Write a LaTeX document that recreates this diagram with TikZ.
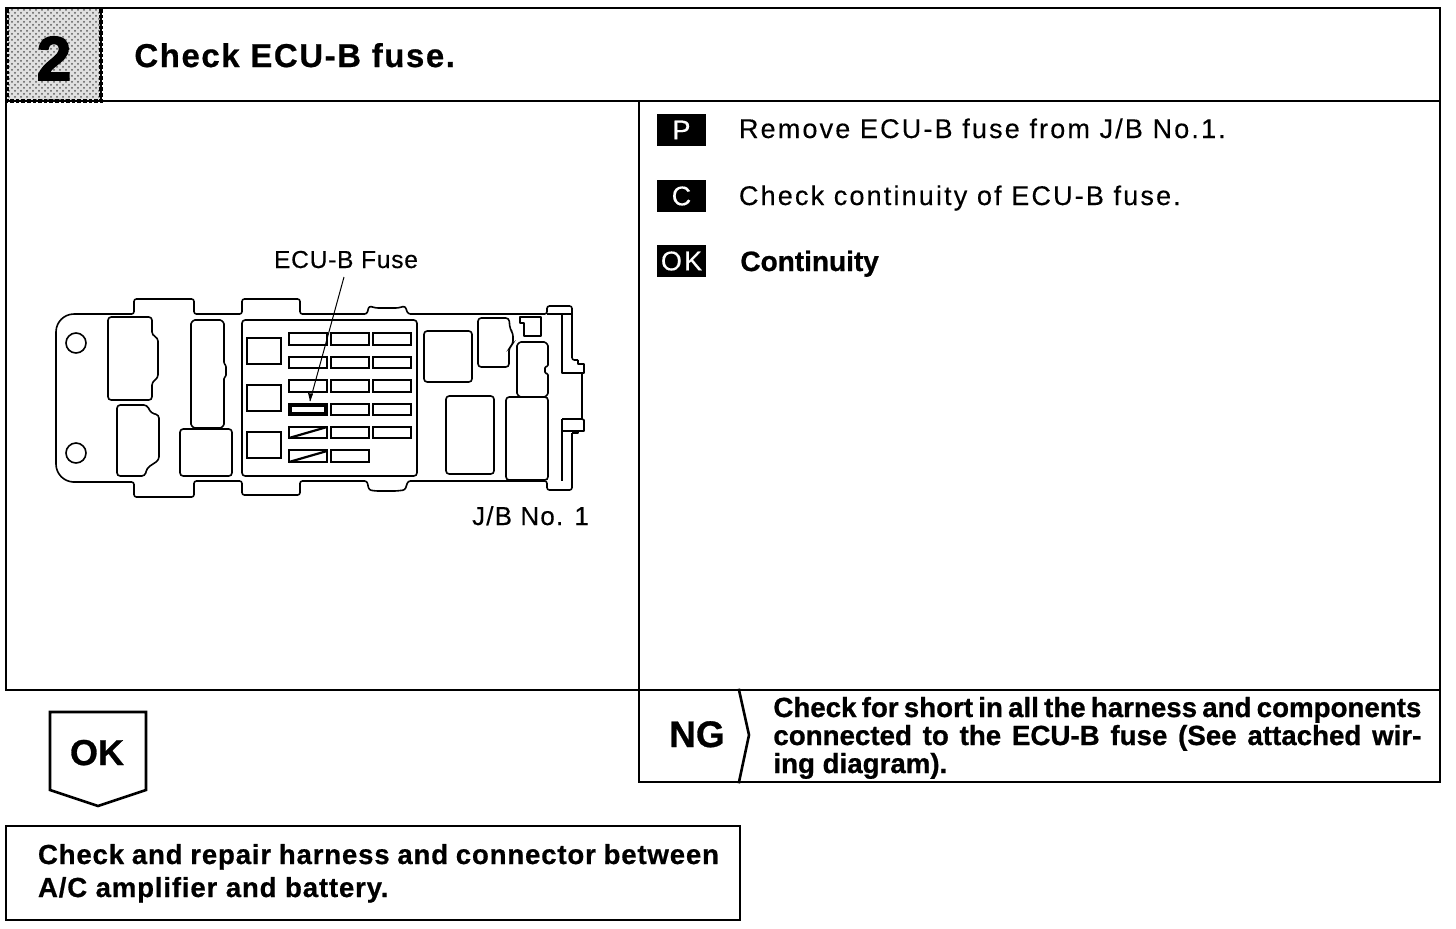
\documentclass[tikz,border=0pt]{standalone}
\usepackage{fontspec}
\usetikzlibrary{patterns}
\setmainfont{Liberation Sans}
\newfontfamily\bodyf[LetterSpace=8,FakeBold=0.25]{Liberation Sans}
\newfontfamily\labelf[LetterSpace=4.5,FakeBold=0.25]{Liberation Sans}
\newfontfamily\fuself[LetterSpace=3,FakeBold=0.25]{Liberation Sans}
\newfontfamily\boldf[LetterSpace=3,FakeBold=0.6]{Liberation Sans Bold}
\newfontfamily\titlef[LetterSpace=4.7,FakeBold=0.6]{Liberation Sans Bold}
\newfontfamily\tightf[FakeBold=0.8]{Liberation Sans Bold}
\newfontfamily\numf[FakeBold=2.5]{Liberation Sans Bold}
\newcommand{\fs}[1]{\fontsize{#1}{#1}\selectfont}
\newlength{\pxu}\setlength{\pxu}{0.5pt}
\newcommand{\jline}[2]{\makebox[#1\pxu][s]{#2}}
\tikzset{
  x=0.5pt,y=-0.5pt,
  frameline/.style={line width=1.3pt,black,line cap=rect},
  partline/.style={line width=0.8pt,black,rounded corners=1.6pt},
  bumpline/.style={line width=0.8pt,black,rounded corners=0.5pt},
  plateline/.style={line width=0.8pt,black,line join=round},
  fuseline/.style={line width=0.8pt,black},
  body/.style={anchor=base west,inner sep=0pt,outer sep=0pt,font=\bodyf\fs{13.5}},
  strong/.style={anchor=base west,inner sep=0pt,outer sep=0pt,font=\boldf\fs{13.8}},
  badge/.style={fill=black,text=white,minimum width=24.5pt,minimum height=16pt,inner sep=0pt,font=\bodyf\fs{13.5}},
}
\begin{document}
\begin{tikzpicture}
\useasboundingbox (0,0) rectangle (1456,928);
\fill[white] (0,0) rectangle (1456,928);
% header cell
\fill[black!12] (6,8) rectangle (101,101);
\fill[pattern=crosshatch dots,pattern color=black!65] (6,8) rectangle (101,101);
\draw[line width=1.8pt,densely dotted] (7,9) -- (7,101) -- (101,101) -- (101,9);
% frames
\draw[frameline] (6,8) -- (1440,8) -- (1440,101) -- (6,101) -- cycle;
\draw[frameline] (6,101) -- (6,690) -- (1440,690) -- (1440,101);
\draw[frameline] (101,8) -- (101,101);
\draw[frameline] (639,101) -- (639,782) -- (1440,782) -- (1440,690);
\draw[frameline] (739,690) -- (749,735) -- (739,782);
\draw[frameline] (50,712) -- (146,712) -- (146,790) -- (98,806) -- (50,790) -- cycle;
\draw[frameline] (6,826) rectangle (740,920);
% header text
\node[anchor=base,inner sep=0pt,font=\numf\fs{31}] (num) at (54,80) {2};
\node[anchor=base west,inner sep=0pt,font=\titlef\fs{16.5}] (title) at (134,67) {Check ECU-B fuse.};
% steps
\node[badge] (bp) at (681.5,130) {P};
\node[badge] (bc) at (681.5,196) {C};
\node[badge] (bok) at (681.5,261) {OK};
\node[body] (tp) at (739,138) {Remove ECU-B fuse from J/B No.1.};
\node[body] (tc) at (739,205) {Check continuity of ECU-B fuse.};
\node[anchor=base west,inner sep=0pt,font=\tightf\fs{14}] (tok) at (740,271) {Continuity};
% result labels
\node[anchor=base,inner sep=0pt,font=\tightf\fs{18.5}] (ng) at (697,747) {NG};
\node[anchor=base,inner sep=0pt,font=\tightf\fs{18}] (ok) at (97,765) {OK};
\node[anchor=base west,inner sep=0pt,font=\tightf\fs{13.85}] (ngt1) at (773,717) {\jline{648}{Check for short in all the harness and components}};
\node[anchor=base west,inner sep=0pt,font=\tightf\fs{13.85}] (ngt2) at (773,745) {\jline{648}{connected to the ECU-B fuse (See attached wir-}};
\node[anchor=base west,inner sep=0pt,font=\tightf\fs{13.85}] (ngt3) at (773,773) {ing diagram).};
\node[strong] (rep1) at (38,864) {\jline{681}{Check and repair harness and connector between}};
\node[strong] (rep2) at (38,897) {A/C amplifier and battery.};
% junction block plate
\draw[plateline,rounded corners=1.2pt] (56,332) [rounded corners=9pt] -- (56,314) [rounded corners=1.2pt] -- (134,314) -- (134,299) -- (194,299) -- (194,314) -- (242,314) -- (242,299) -- (300,299) -- (300,314) -- (367,314) -- (369,306) -- (376,308) -- (398,308) -- (405,306) -- (408,314) -- (547,314) -- (547,306) -- (572,306) -- (572,360) -- (578,360);
\draw[plateline] (578,360) -- (578,364) -- (584,364) -- (584,373) -- (562,373) -- (562,314);
\draw[plateline] (572,314) -- (547,314);
\draw[plateline] (582,373) -- (582,419) -- (562,419);
\draw[plateline] (582,419) -- (584,420) -- (584,431) -- (578,431) -- (578,433) -- (572,433);
\draw[plateline,rounded corners=1.2pt] (572,433) -- (572,490) -- (547,490) -- (547,481) -- (408,481) -- (405,490) -- (396,491) -- (376,491) -- (369,490) -- (367,481) -- (300,481) -- (300,495) -- (242,495) -- (242,481) -- (194,481) -- (194,497) -- (134,497) -- (134,482) -- (75,482) [rounded corners=9pt] -- (56,482) -- (56,332);
\draw[plateline] (562,419) -- (562,481);
\draw[plateline] (562,431) -- (578,431);
\draw[plateline] (76,343) circle[radius=10];
\draw[plateline] (76,453) circle[radius=10];
% connectors on the left
\draw[partline] (108,317) -- (152,317) -- (152,335) -- (158,338) -- (158,378) -- (152,382) -- (152,400) -- (108,400) -- cycle;
\draw[partline] (117,405) -- (147,405) -- (151,413) -- (159,415) -- (159,460) -- (147,468) -- (145,476) -- (117,476) -- cycle;
\draw[bumpline] (194,320) -- (221,320) -- (224,323) -- (224,363) -- (226,366) -- (226,376) -- (224,378) -- (224,425) -- (221,428) -- (194,428) -- (191,425) -- (191,323) -- cycle;
\draw[partline] (180,429) -- (232,429) -- (232,476) -- (180,476) -- cycle;
% fuse panel
\draw[partline] (242,320) -- (417,320) -- (417,476) -- (242,476) -- cycle;
\foreach \yy in {338,385,432} \draw[fuseline] (247,\yy) rectangle (281,\yy+26);
\foreach \yy/\yb in {333/345,357/368,380/392,427/438,450/462}
  \draw[fuseline] (289,\yy) rectangle (327,\yb);
\foreach \yy/\yb in {333/345,357/368,380/392,404/415,427/438,450/462}
  \draw[fuseline] (331,\yy) rectangle (369,\yb);
\foreach \yy/\yb in {333/345,357/368,380/392,404/415,427/438}
  \draw[fuseline] (373,\yy) rectangle (411,\yb);
\draw[line width=1.1pt] (289,438) -- (327,427);
\draw[line width=1.1pt] (289,462) -- (327,451);
\draw[line width=1.7pt] (290,405) rectangle (326,414);
% right-hand parts
\draw[partline] (424,331) -- (472,331) -- (472,382) -- (424,382) -- cycle;
\draw[partline] (478,318) -- (509,318) -- (510,329) -- (513,333) -- (513,344) -- (509,348) -- (509,367) -- (478,367) -- cycle;
\draw[plateline] (520,317) -- (541,317) -- (541,336) -- (524,336) -- (524,323) -- (520,323) -- cycle;
\draw[bumpline] (520,342) -- (545,342) -- (548,345) -- (548,366) -- (545,367) -- (545,373) -- (548,374) -- (548,394) -- (545,397) -- (520,397) -- (517,394) -- (517,345) -- cycle;
\draw[partline] (506,397) -- (548,397) -- (548,480) -- (506,480) -- cycle;
\draw[partline] (446,396) -- (494,396) -- (494,474) -- (446,474) -- cycle;
% labels and leader
\node[anchor=base,inner sep=0pt,font=\fuself\fs{12.3}] (fuselabel) at (346,268) {ECU-B Fuse};
\node[anchor=base,inner sep=0pt,font=\labelf\fs{13}] (jb) at (530.5,525) {J/B No. 1};
\coordinate (leadstart) at (fuselabel.south);
\coordinate (fusetip) at (310,401);
\draw[line width=0.5pt] (344,277) -- (fusetip);
\fill (310,401) -- (308,393) -- (313,394) -- cycle;
\end{tikzpicture}
\end{document}
